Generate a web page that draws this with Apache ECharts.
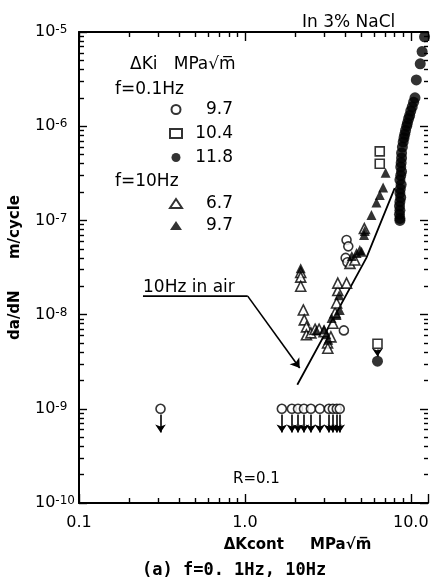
<!DOCTYPE html>
<html>
<head>
<meta charset="utf-8">
<script src="https://cdn.jsdelivr.net/npm/echarts@6/dist/echarts.min.js"></script>
<style>
html,body{margin:0;padding:0;background:#fff;}
#main{width:431px;height:578px;}
</style>
</head>
<body>
<div id="main"></div>
<script>
// da/dN - ΔKcont, 3% NaCl, R=0.1
var FONT = 'DejaVu Sans';

// f=0.1Hz, ΔKi=9.7 (open circle)
var circ97 = [[0.31,1e-9],[1.67,1e-9],[1.92,1e-9],[2.09,1e-9],[2.27,1e-9],[2.5,1e-9],[2.83,1e-9],
  [3.21,1e-9],[3.39,1e-9],[3.58,1e-9],[3.73,1e-9],
  [4.1,6.2e-8],[4.2,5.3e-8],[4.05,4.0e-8],[4.15,3.6e-8],[3.95,6.8e-9]];
// f=0.1Hz, ΔKi=10.4 (open square)
var sq104 = [[6.5,5.4e-7],[6.5,4.0e-7],[6.3,4.9e-9]];
// f=0.1Hz, ΔKi=11.8 (filled circle)
var dot118 = [[12.1,8.9e-6],[11.7,6.2e-6],[11.4,4.6e-6],[10.8,3.1e-6],[10.6,2.0e-6],[10.4,1.8e-6],
  [10.2,1.6e-6],[10.0,1.45e-6],[9.85,1.3e-6],[9.7,1.2e-6],[9.55,1.08e-6],[9.45,1.0e-6],[9.3,9e-7],
  [9.2,8.2e-7],[9.1,7.5e-7],[9.0,6.8e-7],[8.9,6.0e-7],[8.8,5.2e-7],
  [8.8,4.6e-7],[8.75,4.1e-7],[8.7,3.7e-7],[8.8,3.3e-7],[8.7,3.0e-7],[8.6,2.7e-7],[8.75,2.4e-7],
  [8.65,2.15e-7],[8.6,1.95e-7],[8.7,1.75e-7],[8.6,1.58e-7],[8.55,1.42e-7],[8.6,1.28e-7],
  [8.55,1.16e-7],[8.6,1.05e-7],[8.6,1.0e-7],[6.3,3.2e-9]];
// f=10Hz, ΔKi=6.7 (open triangle)
var tri67 = [[2.17,2.8e-8],[2.17,2.5e-8],[2.17,2.0e-8],[2.25,1.12e-8],[2.28,8.8e-9],[2.35,7.4e-9],
  [2.35,6.1e-9],[2.5,6.4e-9],[2.65,7.0e-9],[2.8,7.0e-9],[3.0,6.6e-9],[3.15,5.0e-9],[3.16,4.4e-9],
  [3.3,5.8e-9],[3.39,8.1e-9],[3.5,1.05e-8],[3.57,1.33e-8],[3.63,1.8e-8],[3.63,2.16e-8],
  [4.1,2.16e-8],[4.3,3.5e-8],[4.6,3.8e-8],[5.25,8.2e-8]];
// f=10Hz, ΔKi=9.7 (filled triangle)
var tri97 = [[2.17,3.1e-8],[7.05,3.2e-7],[6.81,2.23e-7],[6.5,1.86e-7],[6.21,1.55e-7],[5.79,1.14e-7],
  [5.28,7.7e-8],[5.23,7.0e-8],[4.93,4.85e-8],[5.05,4.65e-8],[4.71,4.5e-8],[4.41,4.2e-8],
  [3.73,1.12e-8],[3.57,9.9e-9],[3.33,9.2e-9],[3.18,5.4e-9],[3.0,7.0e-9],[2.7,6.8e-9],
  [3.1,6.2e-9],[3.7,1.6e-8]];
// points that are upper bounds (arrow down)
var boundK = [0.31,1.67,1.92,2.09,2.27,2.5,2.83,3.21,3.39,3.58,3.73];
var boundRate = 1e-9;
var sqBound = [6.3,4.9e-9];
// 10Hz in air
var airK = [2.07,5.4,8.0];
var airRate = [1.8e-9,4.0e-8,2.2e-7];
// leader of the "10Hz in air" note
var noteK = [0.243,1.04,2.14];
var noteRate = [1.57e-8,1.57e-8,2.71e-9];

var X_MIN = 0.1, X_MAX = 12.7, Y_MIN = 1e-10, Y_MAX = 1e-5;

var arrowData = boundK.map(function(k){
  return {coords:[[k, boundRate*0.87],[k, 5.6e-10]]};
});
arrowData.push({coords:[[sqBound[0], sqBound[1]*0.87],[sqBound[0], 3.6e-9]]});

var openStyle = {color:'#fff', borderColor:'#000', borderWidth:1.6};
var fillStyle = {color:'#000', borderColor:'#000', borderWidth:0};

// ticks point into the plot, minor ticks at 2..9 of each decade
var tickStyle = {color:'#000', width:1.4};
function majorTick(len){ return {show:true, inside:true, length:len, lineStyle:tickStyle}; }
function minorTick(len){ return {show:true, splitNumber:9, length:len, lineStyle:tickStyle}; }

function valueText(name){ return '{v|' + name.split(' ').pop() + '}'; }
var legendRich = {v:{width:46, align:'right', fontSize:17, fontFamily:FONT, color:'#000'}};

var myChart = echarts.init(document.getElementById('main'), null, {renderer:'canvas'});

var option = {
  backgroundColor:'#fff',
  animation:false,
  textStyle:{fontFamily:FONT, color:'#000'},
  title:{
    text:'(a) f=0. 1Hz, 10Hz',
    left:137, top:557,
    textStyle:{fontFamily:'DejaVu Sans Mono', fontWeight:'bold', fontSize:17, color:'#000'}
  },
  grid:{left:79, right:3, top:32, bottom:75, outerBoundsMode:'none'},
  legend:[{
    orient:'vertical', left:164, top:96, itemWidth:12, itemHeight:9, itemGap:7,
    data:['f=0.1Hz 9.7','f=0.1Hz 10.4','f=0.1Hz 11.8'],
    formatter:valueText, textStyle:{rich:legendRich}
  },{
    orient:'vertical', left:164, top:190, itemWidth:12, itemHeight:9, itemGap:5,
    data:['f=10Hz 6.7','f=10Hz 9.7'],
    formatter:valueText, textStyle:{rich:legendRich}
  }],
  xAxis:[{
    type:'log', logBase:10, min:X_MIN, max:X_MAX,
    name:'ΔKcont     MPa√m̅', nameLocation:'middle', nameGap:35,
    nameTextStyle:{fontFamily:FONT, fontWeight:'bold', fontSize:15, color:'#000', padding:[0,0,0,88]},
    axisLine:{show:true, lineStyle:{color:'#000', width:2}},
    axisTick:majorTick(9), minorTick:minorTick(5), splitLine:{show:false},
    axisLabel:{margin:12, fontSize:16, fontFamily:FONT, color:'#000',
      formatter:function(v){ return v < 1 ? '0.1' : v.toFixed(1); }}
  },{
    type:'log', logBase:10, min:X_MIN, max:X_MAX, position:'top',
    axisLine:{show:true, lineStyle:{color:'#000', width:2}},
    axisTick:majorTick(9), minorTick:minorTick(5),
    axisLabel:{show:false}, splitLine:{show:false}
  }],
  yAxis:[{
    type:'log', logBase:10, min:Y_MIN, max:Y_MAX,
    name:'da/dN      m/cycle', nameLocation:'middle', nameGap:56, nameRotate:90,
    nameTextStyle:{fontFamily:FONT, fontWeight:'bold', fontSize:15, color:'#000'},
    axisLine:{show:true, lineStyle:{color:'#000', width:2}},
    axisTick:majorTick(8), minorTick:minorTick(5), splitLine:{show:false},
    axisLabel:{margin:44, align:'left', color:'#000',
      formatter:function(v){ return '{b|10}{e|' + Math.round(Math.log10(v)) + '}'; },
      rich:{
        b:{fontSize:16, fontFamily:FONT, lineHeight:16, verticalAlign:'bottom', color:'#000'},
        e:{fontSize:12, fontFamily:FONT, lineHeight:12, verticalAlign:'top', color:'#000'}
      }}
  },{
    type:'log', logBase:10, min:Y_MIN, max:Y_MAX, position:'right',
    axisLine:{show:false},
    axisTick:majorTick(8), minorTick:minorTick(4),
    axisLabel:{show:false}, splitLine:{show:false}
  }],
  graphic:[
    {type:'text', left:302, top:14, style:{text:'In 3% NaCl', font:'17px ' + FONT, fill:'#000'}},
    {type:'text', left:130, top:56, style:{text:'ΔKi   MPa√m̅', font:'17px ' + FONT, fill:'#000'}},
    {type:'text', left:115, top:81, style:{text:'f=0.1Hz', font:'17px ' + FONT, fill:'#000'}},
    {type:'text', left:115, top:173, style:{text:'f=10Hz', font:'17px ' + FONT, fill:'#000'}},
    {type:'text', left:143, top:279, style:{text:'10Hz in air', font:'17px ' + FONT, fill:'#000'}},
    {type:'text', left:233, top:472, style:{text:'R=0.1', font:'15px ' + FONT, fill:'#000'}}
  ],
  series:[
    {
      name:'10Hz in air', type:'line', data:airK.map(function(k,i){ return [k, airRate[i]]; }),
      symbol:'none', lineStyle:{color:'#000', width:1.8}, z:2
    },{
      name:'note', type:'line', data:noteK.slice(0,2).map(function(k,i){ return [k, noteRate[i]]; }),
      symbol:'none', lineStyle:{color:'#000', width:1.6}, z:2
    },{
      name:'note arrow', type:'lines', coordinateSystem:'cartesian2d',
      data:[{coords:[[noteK[1], noteRate[1]],[noteK[2], noteRate[2]]]}],
      symbol:['none','arrow'], symbolSize:9, lineStyle:{color:'#000', width:1.6, opacity:1}, z:2
    },{
      name:'bounds', type:'lines', coordinateSystem:'cartesian2d', data:arrowData,
      symbol:['none','arrow'], symbolSize:8, lineStyle:{color:'#000', width:1.6, opacity:1}, z:3
    },{
      name:'f=0.1Hz 9.7', type:'scatter', data:circ97, symbol:'circle', symbolSize:9,
      itemStyle:openStyle, z:4
    },{
      name:'f=0.1Hz 10.4', type:'scatter', data:sq104, symbol:'rect', symbolSize:9,
      itemStyle:openStyle, z:4
    },{
      name:'f=0.1Hz 11.8', type:'scatter', data:dot118, symbol:'circle', symbolSize:11,
      itemStyle:fillStyle, z:5
    },{
      name:'f=10Hz 6.7', type:'scatter', data:tri67, symbol:'triangle', symbolSize:10,
      itemStyle:openStyle, z:4
    },{
      name:'f=10Hz 9.7', type:'scatter', data:tri97, symbol:'triangle', symbolSize:10,
      itemStyle:fillStyle, z:4
    }
  ]
};

myChart.setOption(option);
</script>
</body>
</html>
